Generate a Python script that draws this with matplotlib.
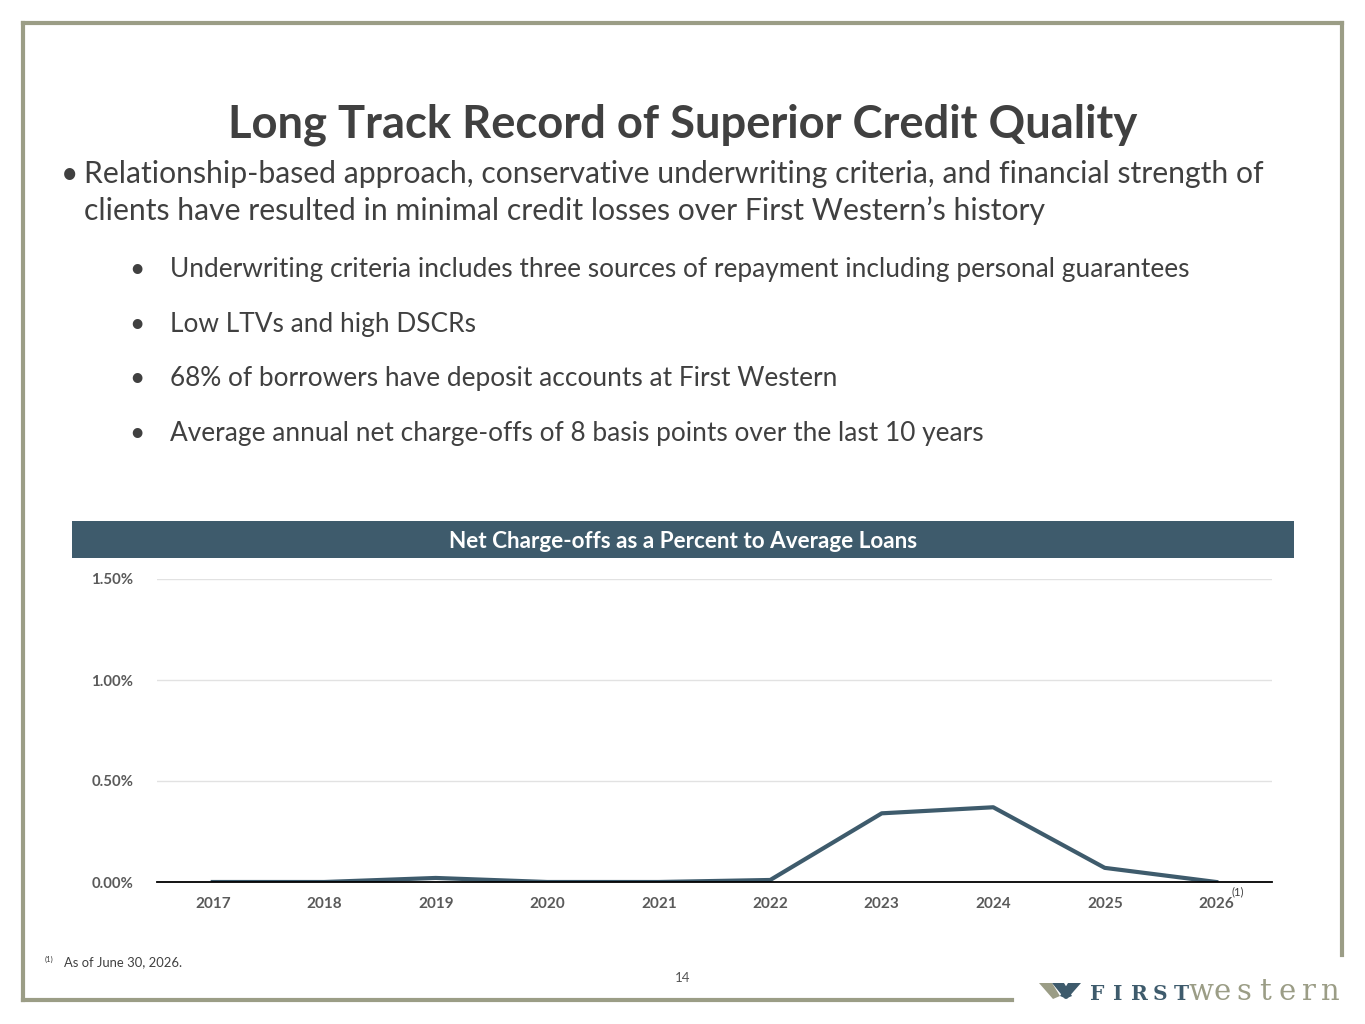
import matplotlib
matplotlib.use("Agg")
import matplotlib.pyplot as plt
from matplotlib.lines import Line2D
from matplotlib.patches import Rectangle, Polygon
from matplotlib.ticker import FuncFormatter

# ---- data -------------------------------------------------------------------
years = ["2017", "2018", "2019", "2020", "2021", "2022",
         "2023", "2024", "2025", "2026"]
nco_pct = [0.00, 0.00, 0.02, 0.00, 0.00, 0.01, 0.34, 0.37, 0.07, 0.00]
y_ticks = [0.0, 0.5, 1.0, 1.5]

title = "Long Track Record of Superior Credit Quality"
main_bullet = ["Relationship-based approach, conservative underwriting criteria, and financial strength of",
               "clients have resulted in minimal credit losses over First Western\u2019s history"]
sub_bullets = ["Underwriting criteria includes three sources of repayment including personal guarantees",
               "Low LTVs and high DSCRs",
               "68% of borrowers have deposit accounts at First Western",
               "Average annual net charge-offs of 8 basis points over the last 10 years"]
chart_title = "Net Charge-offs as a Percent to Average Loans"

W, H = 1365, 1024
TEXT = "#404040"
SLATE = "#3E5B6C"
OLIVE = "#9B9D86"
SERIF = ["DejaVu Serif", "Liberation Serif"]

plt.rcParams["font.family"] = ["Lato", "DejaVu Sans"]

fig = plt.figure(figsize=(W / 100, H / 100), dpi=100)


def fx(px):
    return px / W


def fy(py):
    return 1 - py / H


# ---- slide frame ------------------------------------------------------------
for (x0, y0, x1, y1) in [(23, 23, 1342, 23), (23, 23, 23, 1000),
                         (23, 1000, 1012, 1000), (1342, 23, 1342, 955)]:
    fig.add_artist(Line2D([fx(x0), fx(x1)], [fy(y0), fy(y1)], color=OLIVE,
                          lw=3.0, solid_capstyle="projecting"))

# ---- text block -------------------------------------------------------------
fig.text(fx(683), fy(137), title, ha="center", va="baseline",
         fontsize=32.7, fontweight="bold", color=TEXT)

fig.text(fx(61), fy(183), "\u2022", ha="left", va="baseline", fontsize=21.7, color=TEXT)
for i, line in enumerate(main_bullet):
    fig.text(fx(84), fy(183 + 37 * i), line, ha="left", va="baseline",
             fontsize=21.7, color=TEXT)

for i, line in enumerate(sub_bullets):
    yb = 277 + 54.7 * i
    fig.text(fx(129), fy(yb), "\u2022", ha="left", va="baseline", fontsize=19, color=TEXT)
    fig.text(fx(170), fy(yb), line, ha="left", va="baseline", fontsize=18.95, color=TEXT)

# ---- chart header bar -------------------------------------------------------
fig.add_artist(Rectangle((fx(72), fy(558)), fx(1294 - 72), (558 - 521) / H,
                         facecolor=SLATE, edgecolor="none"))
fig.text(fx(683), fy(541), chart_title, ha="center", va="center",
         fontsize=16.2, fontweight="bold", color="white")

# ---- line chart -------------------------------------------------------------
ax = fig.add_axes([fx(157), fy(882), fx(1272 - 157), (882 - 579) / H])
x = list(range(len(years)))
ax.plot(x, nco_pct, color=SLATE, lw=3.0, solid_joinstyle="round", zorder=3)
ax.set_xlim(-0.5, len(years) - 0.5)
ax.set_ylim(0, 1.5)
ax.set_yticks(y_ticks)
ax.yaxis.set_major_formatter(FuncFormatter(lambda v, _: f"{v:.2f}%"))
ax.set_xticks(x)
ax.set_xticklabels(years)
ax.grid(axis="y", color="#E2E2E2", lw=1.0)
ax.set_axisbelow(True)
for s in ["top", "right", "left"]:
    ax.spines[s].set_visible(False)
ax.spines["bottom"].set_color("black")
ax.spines["bottom"].set_linewidth(1.3)
ax.spines["bottom"].set_zorder(4)
ax.tick_params(axis="both", length=0, labelcolor="#5A5A5A")
ax.tick_params(axis="y", pad=17, labelsize=10.8)
ax.tick_params(axis="x", pad=11, labelsize=11)
for lab in ax.get_xticklabels() + ax.get_yticklabels():
    lab.set_fontweight("bold")

fig.text(fx(1232), fy(892), "(1)", ha="left", va="center", fontsize=8, color=TEXT)

# ---- footnote, page number ---------------------------------------------------
fig.text(fx(45), fy(959), "(1)", ha="left", va="center", fontsize=5.5, color=TEXT)
fig.text(fx(64), fy(962), "As of June 30, 2026.", ha="left", va="center",
         fontsize=9.4, color=TEXT)
fig.text(fx(683), fy(978), "14", ha="center", va="center", fontsize=9.5, color="#555555")

# ---- logo --------------------------------------------------------------------
def logo_poly(pts, color):
    fig.add_artist(Polygon([(fx(px), fy(py)) for px, py in pts], closed=True,
                           facecolor=color, edgecolor="none"))


logo_poly([(1039, 983), (1052, 983), (1060, 996), (1053, 999)], OLIVE)
logo_poly([(1052, 983), (1064, 983), (1072, 996), (1065, 999)], SLATE)
logo_poly([(1060, 996), (1068, 983), (1081, 983), (1067, 999)], SLATE)

# letter-spaced wordmark, one glyph at a time
for i, ch in enumerate("FIRST"):
    fig.text(fx(1097 + 21 * i), fy(1000), ch, ha="center", va="baseline",
             fontsize=14.5, fontweight="bold", color=SLATE, family=SERIF)
for i, ch in enumerate("western"):
    fig.text(fx(1201 + 21.5 * i), fy(1000), ch, ha="center", va="baseline",
             fontsize=21, color=OLIVE, family=SERIF)

fig.savefig("out.png", dpi=100)
